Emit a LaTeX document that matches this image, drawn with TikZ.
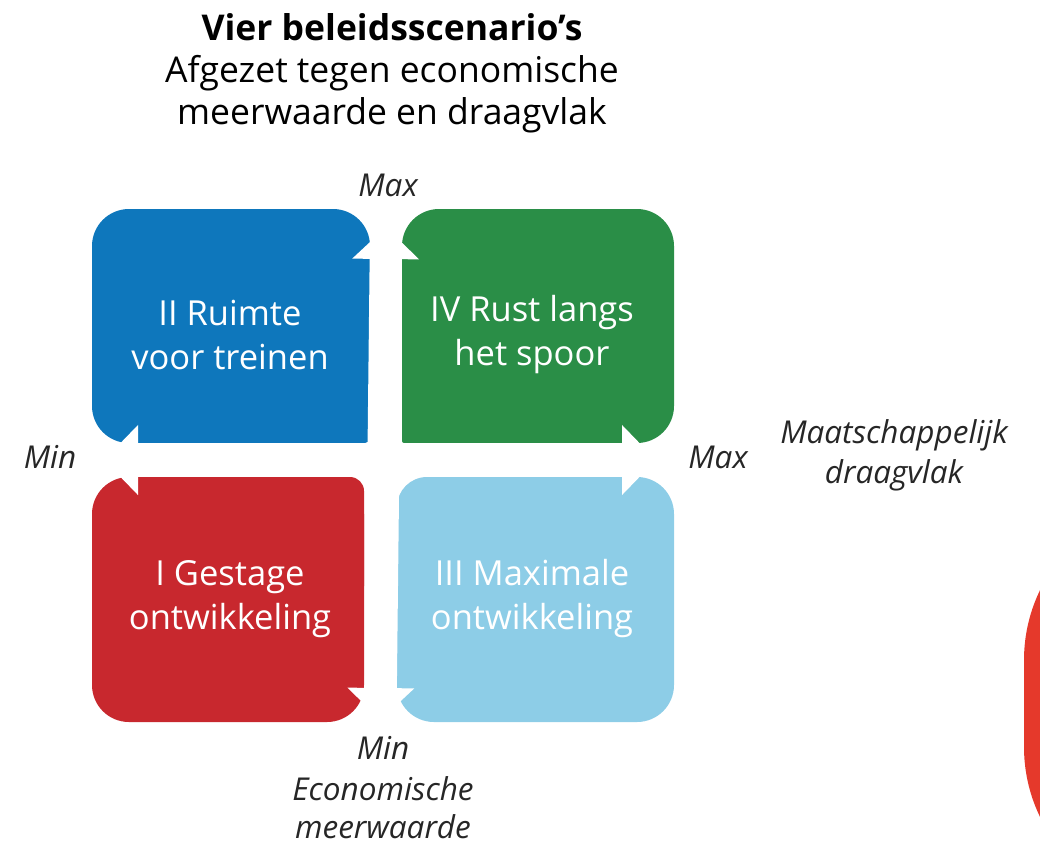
\documentclass[tikz,border=0pt]{standalone}
\usepackage{fontspec}
\setmainfont{Open Sans}
\usepackage{xcolor}
\usetikzlibrary{arrows.meta}
\definecolor{quad-blue}{HTML}{0E77BC}
\definecolor{quad-green}{HTML}{2A8E47}
\definecolor{quad-red}{HTML}{C8282E}
\definecolor{quad-lightblue}{HTML}{8DCDE7}
\definecolor{edge-red}{HTML}{E5392B}
\tikzset{
    quad-text/.style = {text=white, align=center, font=\fontsize{34.5}{44}\selectfont},
    axis-label/.style = {text=black!85, align=center, inner sep=0pt, font=\itshape\fontsize{31.5}{40}\selectfont},
    title-text/.style = {text=black, align=center, font=\fontsize{35.5}{42}\selectfont},
    h-arrow/.style = {draw=white, line width=34pt, {Triangle[width=68pt,length=34pt]}-{Triangle[width=68pt,length=34pt]}},
    v-arrow/.style = {draw=white, line width=32pt, {Triangle[width=65pt,length=32pt]}-{Triangle[width=65pt,length=32pt]}},
}
\begin{document}
\begin{tikzpicture}[x=1pt, y=-1pt]
\useasboundingbox (0,0) rectangle (1040,849);

% red shape cut off at the right edge
\begin{scope}
\clip (0,0) rectangle (1040,849);
\fill[edge-red, rounded corners=160pt] (1024,500) rectangle (1300,907);
\end{scope}

% the four quadrants
\fill[quad-blue, rounded corners=37pt] (92,209) rectangle (370,443);
\fill[quad-blue, rounded corners=5pt] (231,326) rectangle (370,443);
\fill[quad-green, rounded corners=37pt] (402,209) rectangle (674,443);
\fill[quad-green, rounded corners=2pt] (402,326) rectangle (538,443);
\fill[quad-red, rounded corners=37pt] (92,477) rectangle (364,722);
\fill[quad-red, rounded corners=14pt] (228,477) rectangle (364,600);
\fill[quad-lightblue, rounded corners=37pt] (397,477) rectangle (674,722);
\fill[quad-lightblue, rounded corners=30pt] (397,477) rectangle (535,600);

% axes
\coordinate (h-west) at (104,460);
\coordinate (h-east) at (656,460);
\coordinate (v-south) at (380.5,720);
\coordinate (v-north) at (386,227);
\draw[h-arrow] (h-west) -- (h-east);
\draw[v-arrow] (v-south) -- (v-north);

\node[quad-text] (quad-ii) at (230,335) {II Ruimte\\voor treinen};
\node[quad-text] (quad-iv) at (532,335) {IV Rust langs\\het spoor};
\node[quad-text] (quad-i) at (230,599) {I Gestage\\ontwikkeling};
\node[quad-text] (quad-iii) at (532,599) {III Maximale\\ontwikkeling};

\node[title-text, font=\bfseries\fontsize{35.5}{42}\selectfont] (title) at (392,27) {Vier beleidsscenario’s};
\node[title-text] (subtitle) at (392,94) {Afgezet tegen economische\\meerwaarde en draagvlak};

\node[axis-label] (max-top) at (388,185) {Max};
\node[axis-label] (min-left) at (50,457) {Min};
\node[axis-label] (max-right) at (718,457) {Max};
\node[axis-label] (draagvlak) at (894,455) {Maatschappelijk\\draagvlak};
\node[axis-label] (min-bottom) at (383,748) {Min};
\node[axis-label, font=\itshape\fontsize{31.5}{38}\selectfont] (meerwaarde) at (383,808) {Economische\\meerwaarde};
\end{tikzpicture}
\end{document}
